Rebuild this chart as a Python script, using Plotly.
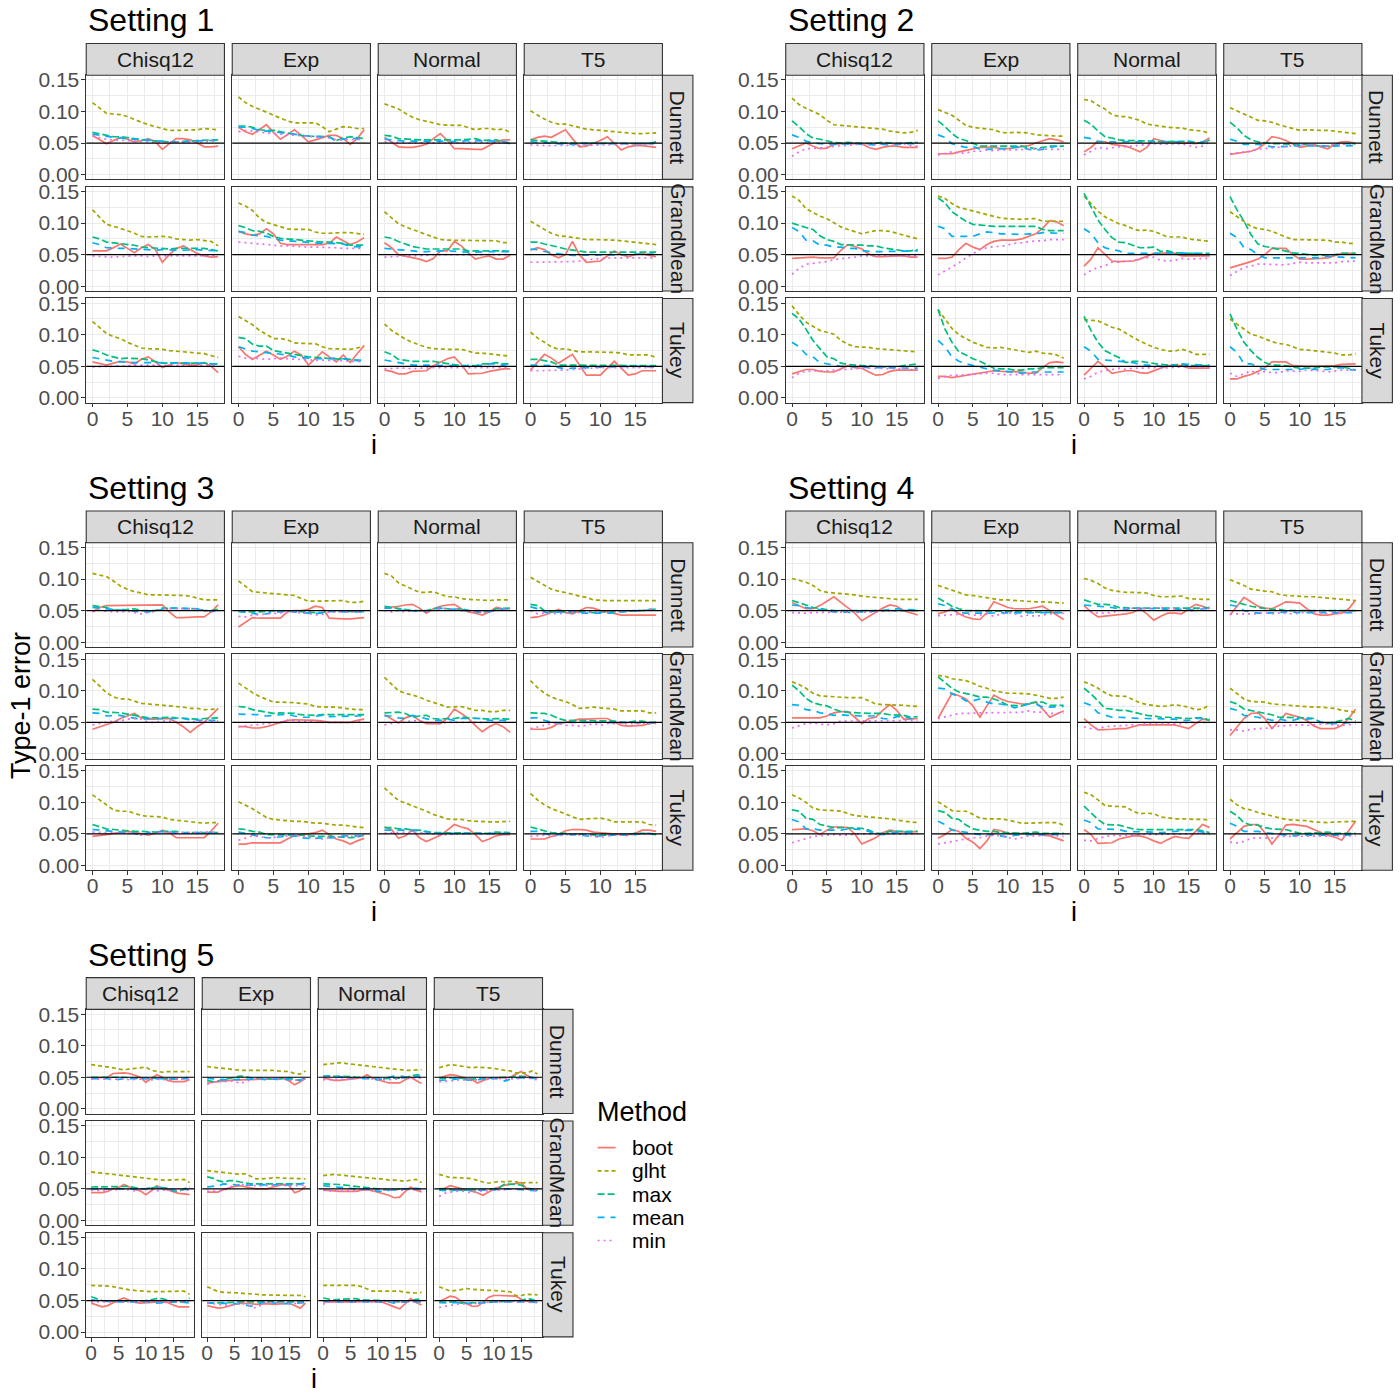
import plotly.graph_objects as go

# x values (i) shared by every panel
I_VALUES = [0, 1, 2, 3, 4, 5, 6, 7, 8, 9, 10, 11, 12, 13, 14, 15, 16, 17, 18]

COLUMNS = ["Chisq12", "Exp", "Normal", "T5"]
ROWS = ["Dunnett", "GrandMean", "Tukey"]
METHODS = ["boot", "glht", "max", "mean", "min"]
Y_TICKS = [0, 0.05, 0.10, 0.15]
Y_TICKTEXT = ["0.00", "0.05", "0.10", "0.15"]
X_TICKS = [0, 5, 10, 15]

# type-1 error x1000, panel order: Dunnett (Chisq12, Exp, Normal, T5), GrandMean (...), Tukey (...)
S1_BOOT = [
    [62,56,49,54,59,56,52,54,57,52,40,49,57,57,55,50,44,44,45],
    [75,68,64,72,79,67,56,63,71,62,52,55,59,62,62,57,48,57,71],
    [59,52,44,43,43,45,48,57,65,54,41,41,40,40,40,46,52,55,55],
    [55,59,61,59,65,71,57,44,45,49,54,60,49,39,44,46,46,45,43],
    [56,56,56,61,67,60,53,61,66,58,38,50,60,64,58,52,48,46,47],
    [87,83,81,83,91,83,68,66,66,66,66,66,66,68,78,72,66,70,77],
    [69,61,50,48,46,43,39,44,56,56,71,64,53,43,46,48,43,43,49],
    [57,61,58,50,45,50,71,50,38,39,40,48,56,50,47,50,52,49,47],
    [57,54,52,55,58,57,54,61,65,57,48,52,56,54,52,52,56,50,40],
    [81,69,61,68,74,68,61,66,74,68,52,62,73,65,57,68,56,70,83],
    [44,42,38,38,42,43,43,51,57,62,65,53,38,38,39,42,44,46,46],
    [44,56,69,63,55,62,69,52,36,36,36,47,58,47,36,38,43,43,43],
]
S1_GLHT = [
    [114,106,97,96,95,92,87,83,79,76,73,70,70,70,71,71,73,72,71],
    [123,114,108,104,99,94,89,85,82,82,82,82,76,68,72,76,75,73,73],
    [112,108,104,97,91,87,85,82,79,78,78,78,74,71,73,73,71,72,67],
    [101,94,88,83,80,80,77,74,72,71,70,69,67,66,65,65,65,65,66],
    [121,109,98,95,92,88,84,79,78,79,79,78,75,74,73,74,72,71,64],
    [132,127,120,108,101,98,95,91,90,90,90,86,84,84,85,85,85,83,82],
    [118,108,99,94,90,85,81,78,74,73,73,73,73,72,72,72,72,69,69],
    [103,96,90,84,80,79,77,75,74,74,74,74,73,72,71,70,68,67,66],
    [121,111,102,97,94,88,83,79,78,78,77,75,74,72,71,70,70,67,64],
    [129,122,116,107,100,94,94,92,87,86,86,86,81,78,78,78,77,79,82],
    [117,107,100,93,88,84,80,78,77,77,77,77,74,71,71,70,69,67,66],
    [104,95,88,81,77,78,75,73,73,73,73,73,72,71,68,68,68,68,64],
]
S1_MAX = [
    [67,65,62,60,60,59,57,55,54,53,52,52,52,52,53,54,55,55,55],
    [77,77,75,71,70,70,68,66,63,62,61,61,61,60,54,58,60,58,57],
    [62,61,57,56,55,55,55,55,54,54,54,55,56,57,54,54,55,52,49],
    [55,54,52,51,50,50,50,50,50,50,50,50,50,50,50,49,49,49,52],
    [78,75,70,69,68,67,65,62,61,60,59,59,60,60,60,60,60,58,56],
    [96,93,88,87,84,79,76,75,73,72,72,71,70,70,69,68,65,65,65],
    [78,76,71,67,63,61,59,59,59,60,60,59,56,56,56,56,57,56,55],
    [70,70,67,65,62,59,57,55,54,54,54,54,54,54,54,54,54,54,54],
    [76,73,68,65,62,63,63,62,60,57,55,55,55,56,56,55,55,54,54],
    [96,94,85,82,82,75,73,71,68,66,65,64,64,62,62,61,61,59,59],
    [73,69,61,59,58,58,58,58,56,54,52,51,51,51,54,54,56,54,54],
    [61,61,59,57,52,52,51,51,51,51,51,51,51,51,51,51,52,51,51],
]
S1_MEAN = [
    [64,62,60,59,58,57,56,55,54,53,52,52,52,52,52,53,54,54,54],
    [75,75,73,70,69,68,67,66,64,62,61,61,60,60,53,56,58,57,57],
    [56,55,53,53,53,53,54,54,53,52,52,53,54,54,53,53,53,52,51],
    [52,51,50,50,49,48,48,49,49,49,49,49,49,48,48,48,49,49,49],
    [69,66,61,60,60,60,59,58,58,57,58,57,57,57,58,58,57,56,56],
    [87,85,81,80,79,76,73,72,71,71,70,69,68,68,68,67,63,62,62],
    [60,59,57,57,56,55,55,56,56,56,55,55,54,54,55,55,55,55,55],
    [59,58,55,53,51,50,49,49,50,50,50,50,50,50,50,51,51,51,51],
    [64,62,59,58,57,56,56,56,56,56,55,55,55,55,56,56,55,54,54],
    [81,78,74,73,72,70,69,68,65,64,62,62,62,63,63,62,61,60,59],
    [60,58,56,53,52,52,52,52,51,51,51,50,51,50,52,54,54,52,54],
    [52,52,52,51,48,46,47,48,48,48,49,49,49,50,50,50,50,49,49],
]
S1_MIN = [
    [61,58,56,55,55,54,53,53,52,51,51,51,51,51,51,52,52,53,53],
    [68,70,69,67,66,65,64,63,62,61,60,60,59,58,55,55,56,56,56],
    [52,51,50,50,50,50,51,51,51,50,50,51,51,52,51,51,51,50,50],
    [47,46,46,46,46,46,46,47,47,47,47,47,48,48,47,47,48,48,48],
    [48,47,47,46,47,48,48,48,47,48,48,48,48,48,48,49,48,48,48],
    [70,69,68,67,65,65,64,64,63,63,62,62,62,61,61,60,60,60,60],
    [46,47,48,48,48,48,49,50,50,50,50,49,49,50,50,50,50,50,50],
    [38,38,39,38,38,38,39,40,42,43,44,45,45,45,45,44,44,45,45],
    [49,50,50,50,50,51,52,52,52,52,52,52,52,52,52,52,52,52,51],
    [66,63,63,62,61,62,63,62,61,61,60,60,60,59,59,59,58,58,58],
    [46,47,47,47,46,47,48,48,48,48,48,49,49,49,48,49,49,48,48],
    [43,43,43,43,43,44,45,46,47,48,48,48,48,48,48,48,49,48,48],
]

S2_BOOT = [
    [41,45,50,45,41,42,48,49,49,49,49,43,40,43,45,45,43,43,43],
    [33,33,33,36,38,41,43,43,43,41,41,43,44,46,50,54,57,55,52],
    [36,43,53,52,48,46,45,41,36,43,57,54,52,52,50,50,49,52,58],
    [32,34,36,37,41,49,60,58,54,48,43,45,48,44,41,48,52,52,49],
    [44,45,46,46,45,45,45,57,66,63,59,51,47,47,48,48,48,46,46],
    [44,44,46,58,68,62,58,66,71,73,73,73,75,79,83,92,104,102,96],
    [32,43,61,50,40,39,39,40,43,48,52,52,53,52,48,48,48,48,48],
    [29,32,36,39,43,50,60,60,60,50,43,43,43,44,45,49,52,52,52],
    [38,42,45,45,42,41,41,46,51,48,47,41,36,37,42,44,44,44,44],
    [34,34,32,34,36,38,40,42,43,42,42,42,41,39,39,48,56,57,56],
    [36,47,58,49,39,41,43,43,40,39,43,47,51,51,51,47,47,47,47],
    [30,30,34,37,42,48,57,57,57,51,50,50,50,50,50,51,53,54,54],
]
S2_GLHT = [
    [121,111,105,100,95,86,79,78,77,76,75,75,74,72,69,67,66,67,70],
    [103,99,94,86,78,75,74,73,71,67,66,67,67,66,63,62,61,61,61],
    [119,117,110,104,95,92,92,89,86,80,78,76,75,74,74,71,70,69,65],
    [106,101,97,92,86,85,83,79,76,72,70,71,70,70,70,69,67,66,65],
    [143,136,123,117,111,107,100,94,90,86,83,86,88,88,87,84,81,78,75],
    [143,139,131,125,122,119,116,114,111,108,107,106,106,107,107,103,103,103,103],
    [143,131,119,110,104,99,96,91,88,89,87,82,78,78,78,75,74,73,71],
    [118,110,103,95,91,90,87,82,78,74,74,73,74,73,73,70,70,68,68],
    [146,132,120,113,107,104,101,91,85,81,81,80,78,77,77,76,74,74,73],
    [140,125,110,100,94,88,84,80,79,80,78,76,74,72,74,71,70,68,63],
    [124,123,122,117,112,109,102,96,90,85,80,77,74,74,77,74,69,69,69],
    [125,117,108,101,98,93,89,86,85,81,77,76,75,74,73,71,68,68,70],
]
S2_MAX = [
    [85,76,65,58,56,53,51,50,51,50,49,49,50,51,50,49,50,50,51],
    [85,76,65,57,54,50,45,45,45,45,45,45,45,43,41,43,45,45,45],
    [86,80,69,60,58,55,54,54,54,53,53,52,52,52,53,53,51,49,55],
    [83,74,62,55,52,50,49,49,48,48,48,48,46,45,45,46,49,49,49],
    [100,96,93,90,80,74,71,66,66,66,65,64,64,61,59,57,56,56,58],
    [140,132,118,110,103,98,97,95,95,95,95,94,94,95,95,90,88,88,88],
    [147,126,105,90,77,70,69,65,61,61,62,55,56,53,52,52,52,52,52],
    [142,121,103,82,67,63,61,58,56,53,52,50,49,49,49,50,52,52,52],
    [134,125,109,91,78,65,62,55,53,52,52,51,49,49,49,49,51,53,54],
    [140,109,88,73,68,62,58,52,47,46,46,44,44,46,46,48,48,48,48],
    [129,107,88,75,69,64,56,58,58,56,55,53,52,53,53,51,51,51,51],
    [133,109,88,75,64,56,52,52,51,49,47,47,47,49,49,49,49,47,44],
]
S2_MEAN = [
    [63,59,53,50,49,48,48,48,49,49,48,47,47,48,47,48,49,49,49],
    [63,59,49,46,43,45,40,40,41,41,41,43,43,40,39,40,43,45,45],
    [59,57,52,52,52,51,52,51,51,51,52,52,52,52,52,52,50,52,52],
    [56,53,48,48,48,46,44,44,45,45,46,46,45,45,45,45,45,45,46],
    [93,87,73,72,65,65,62,62,60,60,56,55,55,55,55,56,56,56,56],
    [95,91,79,79,79,79,83,86,85,83,83,82,82,83,83,85,84,84,84],
    [91,84,69,61,58,56,52,52,51,51,51,52,53,53,53,52,52,51,50],
    [84,77,61,58,50,45,45,45,45,45,45,45,45,45,48,46,46,45,45],
    [88,81,69,65,56,54,51,50,50,49,49,48,48,48,47,48,48,48,47],
    [91,81,65,58,54,51,48,46,44,43,42,41,39,41,41,42,42,42,41],
    [81,74,61,60,58,58,56,56,53,52,51,50,49,52,54,53,52,52,52],
    [81,72,54,54,49,45,45,45,45,45,45,47,45,45,45,47,48,45,44],
]
S2_MIN = [
    [29,36,41,41,42,43,45,46,46,48,48,48,48,48,49,49,49,46,45],
    [31,33,36,34,34,37,37,39,38,39,39,40,40,40,41,40,40,40,40],
    [31,37,43,41,43,44,44,45,47,48,49,48,48,49,49,46,43,45,52],
    [33,34,36,37,40,41,43,43,44,45,46,48,46,45,46,48,48,49,49],
    [19,28,35,36,37,39,42,44,45,46,48,48,48,48,48,48,48,48,48],
    [18,24,31,37,45,52,58,61,63,63,66,68,69,71,72,72,74,74,74],
    [18,25,30,32,38,38,40,40,44,45,46,41,40,41,44,43,44,44,44],
    [17,23,30,32,35,35,34,34,34,36,38,37,37,37,37,37,39,40,40],
    [32,39,42,43,43,43,44,45,45,46,47,47,47,47,46,47,46,45,45],
    [31,33,36,36,37,37,39,39,39,37,37,37,36,36,37,37,37,37,37],
    [30,34,41,43,46,47,45,47,47,48,48,47,48,49,49,49,49,48,48],
    [39,34,38,43,38,42,40,40,43,43,42,44,44,43,41,43,44,44,44],
]

S3_BOOT = [
    [48,55,58,58,58,58,58,58,58,59,59,48,39,39,40,40,40,48,59],
    [24,31,39,38,38,38,38,48,50,50,52,57,55,38,37,37,37,38,39],
    [54,55,57,59,60,54,46,53,57,59,60,53,48,46,43,48,55,53,53],
    [39,40,43,48,52,47,45,50,55,54,50,48,45,43,43,43,43,43,43],
    [39,43,46,50,56,60,64,57,55,55,56,56,50,43,34,43,50,61,72],
    [43,43,41,41,43,46,49,53,54,54,54,53,52,50,50,50,50,53,55],
    [62,56,49,57,61,53,48,48,48,56,71,64,56,45,35,43,48,43,34],
    [39,39,39,42,48,50,53,55,55,56,56,56,50,45,44,44,45,48,50],
    [46,47,49,51,53,54,53,51,48,51,56,52,44,44,44,44,44,55,67],
    [34,34,36,36,36,36,36,42,47,48,50,52,56,49,42,39,34,39,43],
    [61,57,43,47,56,44,38,43,48,56,65,61,58,49,38,42,47,49,49],
    [42,42,42,46,49,55,57,57,56,53,52,51,49,49,49,51,56,56,54],
]
S3_GLHT = [
    [109,106,104,97,89,84,80,78,75,75,75,75,75,74,73,70,67,67,67],
    [97,89,80,79,78,76,76,75,74,69,65,65,65,66,66,66,63,63,65],
    [109,105,94,89,84,79,79,80,76,72,72,69,68,67,66,66,67,67,67],
    [103,97,90,84,81,79,76,73,71,67,66,66,66,66,66,66,67,67,66],
    [118,108,97,90,87,87,84,80,79,78,78,77,75,74,72,72,70,70,71],
    [112,104,97,91,87,82,82,82,81,80,79,75,74,74,74,72,71,70,70],
    [121,110,100,96,93,90,85,82,78,74,74,75,72,69,69,67,67,69,69],
    [116,105,96,90,86,83,78,72,73,74,73,72,71,68,68,68,68,65,65],
    [112,104,96,88,86,86,83,79,78,78,77,73,72,70,69,68,67,68,68],
    [101,96,90,83,76,73,72,70,70,70,68,67,67,65,64,64,62,61,60],
    [123,113,103,99,95,90,86,81,77,74,73,73,71,70,69,69,69,70,70],
    [114,104,96,90,86,82,78,73,74,75,75,73,69,69,69,70,69,65,64],
]
S3_MAX = [
    [58,57,55,51,51,52,53,50,50,50,54,54,54,54,53,53,50,50,52],
    [49,48,48,48,49,50,49,50,49,48,47,47,47,49,49,49,48,48,49],
    [57,55,54,52,50,50,50,53,54,53,52,53,50,48,48,49,53,54,54],
    [60,58,50,48,48,48,48,49,48,47,48,48,48,48,49,50,50,52,52],
    [71,70,66,66,65,63,61,58,57,57,58,58,57,56,56,55,56,57,57],
    [75,74,70,68,67,64,65,65,64,62,61,61,62,62,61,61,62,62,62],
    [65,65,66,64,58,60,61,56,55,56,56,58,57,56,56,55,56,55,55],
    [65,65,64,61,56,53,53,53,53,52,52,52,52,50,50,52,52,50,50],
    [65,62,58,57,56,54,54,54,53,53,54,54,54,52,52,52,52,52,52],
    [58,57,54,53,49,49,49,49,49,48,47,46,46,46,46,45,44,45,48],
    [60,60,58,58,56,56,54,52,52,52,52,52,51,51,51,51,53,52,52],
    [61,58,54,52,51,51,49,50,49,48,48,48,49,49,49,51,51,50,49],
]
S3_MEAN = [
    [55,54,53,51,50,49,49,48,48,50,53,54,54,54,53,53,50,49,50],
    [49,47,45,44,45,48,48,49,48,47,47,45,47,49,49,48,48,48,48],
    [54,54,51,50,50,49,49,53,54,53,53,52,50,49,47,48,50,53,53],
    [56,53,48,46,48,48,48,46,46,45,45,46,46,48,49,50,50,51,51],
    [65,64,60,60,61,58,56,55,56,56,57,57,56,56,54,53,53,53,53],
    [63,63,62,62,60,61,63,63,60,58,58,60,61,59,59,60,60,60,61],
    [60,60,57,56,61,58,56,53,53,55,53,56,56,56,56,53,53,53,53],
    [57,57,53,50,49,50,50,50,50,49,49,49,49,49,49,49,50,49,49],
    [57,56,55,54,54,52,51,48,52,53,54,54,51,52,52,52,52,52,52],
    [53,51,49,47,44,44,46,47,47,44,43,43,44,44,44,47,47,47,47],
    [56,56,57,57,56,55,53,51,51,51,51,51,51,51,50,50,50,51,51],
    [54,54,51,49,49,49,49,49,47,46,47,47,48,49,48,49,51,51,50],
]
S3_MIN = [
    [49,51,49,48,48,49,47,45,47,49,53,53,54,53,53,52,50,48,50],
    [41,40,43,44,44,46,46,48,48,46,46,43,44,48,48,48,48,48,48],
    [50,48,50,48,50,50,48,50,53,53,53,50,49,47,47,48,50,53,53],
    [50,45,46,45,45,46,48,47,48,48,48,48,48,49,50,50,50,52,53],
    [46,48,50,52,52,55,56,55,50,50,52,52,50,50,50,52,52,52,52],
    [43,44,45,46,47,48,50,53,52,52,50,50,50,50,50,50,50,50,52],
    [46,48,50,50,53,52,50,48,48,50,50,50,50,50,50,50,50,50,50],
    [40,43,45,48,48,45,45,44,45,48,45,48,48,48,48,48,48,48,48],
    [53,52,52,52,51,51,51,48,50,52,53,52,52,52,51,52,53,52,52],
    [40,44,47,46,44,44,47,47,49,46,44,43,42,44,44,46,46,47,48],
    [51,52,52,53,53,52,51,49,49,49,50,50,50,50,50,50,50,50,50],
    [46,47,48,47,47,49,49,49,48,47,44,47,49,49,47,50,50,51,50],
]

S4_BOOT = [
    [63,58,53,53,58,65,72,63,55,46,34,41,47,54,59,57,50,47,43],
    [45,48,53,45,40,37,36,47,64,60,55,53,53,53,55,57,50,43,36],
    [58,48,40,41,43,43,45,47,53,45,35,41,46,46,45,53,60,57,53],
    [43,58,71,64,57,54,53,58,64,63,62,53,45,43,43,45,46,53,67],
    [57,57,57,57,57,60,65,67,67,58,48,56,58,69,78,69,55,55,56],
    [56,77,96,92,87,76,58,76,93,87,83,81,79,79,82,71,58,63,68],
    [56,46,38,38,39,40,40,43,46,46,46,46,46,46,43,40,48,55,53],
    [29,43,56,64,65,56,40,52,64,61,58,53,44,40,40,40,45,56,71],
    [57,58,58,55,49,56,61,61,60,50,34,39,44,52,56,54,53,53,54],
    [43,49,57,54,43,37,27,39,57,55,51,51,51,51,50,48,47,43,39],
    [57,49,35,35,36,42,45,47,47,44,39,35,41,46,44,43,54,65,60],
    [42,52,62,65,65,52,34,48,64,65,64,62,57,52,48,45,40,55,70],
]
S4_GLHT = [
    [101,98,95,90,82,79,78,78,76,75,73,72,71,69,69,68,68,68,68],
    [90,86,83,79,75,74,72,70,69,67,67,66,65,64,64,64,63,63,62],
    [101,98,93,86,82,80,79,79,79,78,74,72,72,73,73,69,68,68,68],
    [99,95,90,84,82,81,80,76,74,73,73,72,72,71,70,69,69,67,66],
    [114,110,104,96,92,91,91,90,89,89,89,84,79,78,78,78,77,76,75],
    [124,123,119,118,116,112,107,104,100,98,96,96,96,95,93,90,88,88,90],
    [114,110,104,97,92,91,91,86,81,78,76,75,76,78,76,74,70,71,78],
    [104,95,87,83,82,82,79,78,77,76,76,75,74,74,73,72,69,67,66],
    [112,107,100,91,88,88,87,86,83,79,78,77,77,75,74,72,70,69,68],
    [101,94,87,86,86,81,75,74,74,74,72,69,67,67,68,68,68,68,64],
    [116,112,104,95,94,93,93,86,82,83,82,77,75,74,74,73,73,73,72],
    [105,96,90,88,84,81,79,75,73,72,72,71,69,68,68,69,69,70,70],
]
S4_MAX = [
    [66,63,59,55,53,52,50,50,50,50,50,50,50,50,50,50,50,50,50],
    [70,63,57,53,50,50,50,49,49,49,49,48,48,47,47,47,47,47,47],
    [67,64,60,60,59,55,54,54,54,54,54,53,53,53,53,53,54,54,55],
    [66,63,59,57,55,53,52,52,50,50,50,50,50,50,49,49,50,50,50],
    [109,100,88,81,78,76,71,67,66,65,65,64,64,64,62,62,61,58,59],
    [122,113,104,98,96,93,90,90,87,83,77,76,76,80,82,82,77,77,77],
    [104,95,84,72,71,69,69,66,64,61,60,58,58,57,57,56,57,57,53],
    [83,79,71,69,66,64,62,58,58,58,58,57,56,50,48,50,53,56,52],
    [88,86,75,73,65,62,60,60,60,60,59,56,51,51,54,54,54,54,54],
    [87,84,75,73,64,58,56,54,54,52,52,51,51,52,53,51,51,51,51],
    [94,84,73,65,65,64,61,58,57,57,57,58,58,58,57,57,57,55,52],
    [86,79,68,64,64,60,58,58,57,54,51,51,51,52,53,51,51,51,51],
]
S4_MEAN = [
    [59,58,55,53,52,50,48,48,47,47,48,48,50,50,52,53,52,51,51],
    [61,58,53,47,46,46,46,46,47,46,46,46,47,46,46,47,47,47,47],
    [59,58,58,57,55,53,52,54,54,54,54,53,52,52,52,52,50,53,53],
    [59,57,50,48,46,46,46,47,48,47,47,47,47,47,47,47,47,47,47],
    [78,77,70,69,65,64,61,62,61,60,60,60,60,56,55,59,59,56,56],
    [104,103,95,91,84,84,87,82,79,79,77,73,76,79,79,74,74,74,75],
    [81,77,65,62,58,58,57,57,56,56,56,55,55,55,53,53,56,56,56],
    [72,69,61,60,58,56,53,55,53,53,56,55,56,50,48,48,49,50,50],
    [73,69,58,58,56,56,55,56,58,58,57,54,50,49,51,53,53,53,53],
    [70,65,56,54,52,51,49,49,49,47,45,48,49,49,49,49,50,49,49],
    [72,68,58,58,57,57,54,54,54,53,53,52,53,54,54,56,55,53,53],
    [67,62,54,54,54,52,51,49,49,47,48,48,49,49,48,49,48,48,48],
]
S4_MIN = [
    [47,46,46,47,47,47,48,48,48,47,47,47,48,49,50,50,50,50,50],
    [42,43,43,45,45,43,43,45,41,45,46,45,41,43,41,43,45,45,46],
    [50,48,46,46,47,50,53,54,53,53,54,55,53,53,50,50,50,53,55],
    [45,45,45,46,45,47,45,46,45,45,46,48,48,46,45,46,46,48,48],
    [41,45,48,49,48,46,48,52,52,52,52,52,52,52,52,52,52,53,53],
    [56,59,61,64,64,65,65,65,65,65,65,65,66,68,66,66,64,64,64],
    [43,40,40,43,44,44,45,46,46,48,48,48,48,48,48,50,50,50,50],
    [38,38,36,39,40,40,41,44,45,45,46,45,46,48,48,45,45,46,48],
    [36,39,43,46,47,48,49,48,49,49,50,50,50,50,50,50,50,50,50],
    [34,36,37,39,42,44,44,47,48,47,44,42,44,47,47,48,48,47,46],
    [40,39,43,46,48,47,47,48,49,49,49,49,49,50,50,50,51,51,49],
    [37,36,38,43,44,44,43,46,46,47,46,46,47,47,47,46,46,47,47],
]

S5_BOOT = [
    [49,49,49,50,56,57,57,56,53,50,42,48,54,50,45,43,43,43,46],
    [41,42,43,45,45,46,46,46,46,46,47,47,48,48,49,44,38,43,48],
    [49,47,45,45,46,48,49,49,54,49,46,43,41,41,41,46,50,45,40],
    [49,51,54,53,51,49,46,41,44,48,49,49,49,50,55,59,53,49,49],
    [44,44,44,46,50,52,57,53,49,47,41,47,55,51,48,45,43,42,41],
    [45,45,45,49,52,54,55,53,52,50,50,50,53,55,57,55,44,47,54],
    [48,48,47,46,46,45,46,48,49,47,45,42,40,36,37,46,53,48,45],
    [50,51,55,53,50,48,46,44,40,45,50,53,56,57,58,60,50,48,48],
    [46,43,40,42,47,51,54,51,47,46,46,47,48,48,47,43,40,40,40],
    [42,40,38,39,42,44,46,46,45,44,45,45,44,44,45,46,42,38,46],
    [48,48,47,47,47,48,48,49,49,49,48,47,43,40,37,45,53,47,43],
    [48,53,57,55,49,45,41,41,47,55,58,58,58,58,57,52,49,48,47],
]
S5_GLHT = [
    [70,69,68,67,65,63,62,63,64,65,66,61,59,58,59,59,59,59,59],
    [67,66,65,63,62,61,61,61,61,61,62,61,61,60,60,59,56,55,60],
    [70,71,72,73,72,71,70,69,68,67,66,64,63,62,62,61,61,62,62],
    [65,68,70,69,68,66,65,66,66,65,64,62,61,60,57,57,57,60,55],
    [77,76,75,74,73,72,71,70,69,68,67,65,64,64,64,64,65,65,60],
    [79,78,77,75,74,73,73,74,70,66,66,67,68,68,67,67,67,67,66],
    [71,72,73,72,71,71,70,69,68,67,66,66,64,64,63,62,64,65,60],
    [73,70,68,68,68,67,66,63,61,59,60,62,61,62,61,59,60,60,60],
    [74,74,74,73,72,70,69,67,66,65,64,64,64,64,64,64,65,65,60],
    [72,68,64,63,63,62,62,61,61,60,59,59,58,58,58,58,58,58,56],
    [74,74,74,74,75,75,74,72,69,65,65,65,66,66,65,63,62,62,63],
    [72,68,65,66,68,69,68,67,67,66,66,65,65,64,58,58,60,59,59],
]
S5_MAX = [
    [50,50,50,50,51,51,50,49,49,48,48,49,49,48,48,47,47,48,51],
    [45,43,44,47,48,50,52,51,49,49,48,48,47,47,48,49,46,45,48],
    [52,52,52,51,51,51,50,50,49,49,49,48,48,48,48,49,52,54,53],
    [48,49,49,49,48,47,47,48,49,49,49,49,50,50,52,52,51,50,48],
    [53,53,53,53,53,53,54,54,52,50,50,52,53,52,51,47,46,50,53],
    [69,67,63,61,63,63,61,59,58,58,58,58,57,57,57,57,57,58,60],
    [58,58,58,57,56,55,53,52,51,50,50,49,48,49,50,50,50,50,50],
    [50,49,49,48,48,48,48,48,48,49,50,52,58,58,57,56,51,50,50],
    [56,53,50,49,49,48,49,49,49,49,50,52,53,53,50,48,48,48,54],
    [46,46,46,47,47,47,48,48,48,47,47,48,48,48,48,48,48,48,48],
    [54,52,51,52,52,53,53,51,51,51,50,50,49,48,48,48,49,52,52],
    [47,47,48,48,46,46,46,47,47,47,48,48,49,49,50,50,53,52,48],
]
S5_MEAN = [
    [48,48,48,48,45,47,48,48,48,48,48,48,48,49,49,49,49,48,48],
    [48,48,47,46,46,46,47,47,47,48,47,46,47,47,46,46,46,46,49],
    [52,52,52,51,50,49,48,48,48,47,46,48,50,52,52,50,49,51,52],
    [45,45,46,47,48,46,45,46,47,47,48,48,44,47,49,49,49,49,48],
    [50,50,50,50,50,50,51,51,51,50,50,52,52,51,50,48,48,49,50],
    [53,54,55,58,57,57,56,56,56,56,57,57,57,57,57,57,57,57,60],
    [55,54,53,52,51,50,50,50,50,49,46,47,48,49,50,50,51,51,50],
    [48,47,47,48,48,47,47,47,47,47,48,50,50,50,49,49,48,48,47],
    [51,50,49,48,48,48,48,48,48,48,47,48,46,47,48,48,48,47,46],
    [46,46,45,46,46,46,45,43,41,43,47,47,46,45,45,45,46,46,47],
    [49,48,48,48,48,48,48,48,48,48,47,48,48,46,47,48,49,48,48],
    [47,46,46,47,47,46,45,46,46,47,48,48,48,48,47,48,49,48,47],
]
S5_MIN = [
    [47,47,47,48,48,48,47,46,47,47,47,46,47,46,46,47,48,48,47],
    [39,42,44,43,43,44,40,43,46,47,48,48,48,48,47,45,45,45,46],
    [46,46,46,47,47,48,49,49,48,47,46,46,46,47,48,49,48,49,49],
    [43,43,44,46,46,45,45,46,46,47,48,48,47,47,48,48,49,48,46],
    [48,47,47,48,48,49,50,49,47,48,49,48,47,48,48,48,48,48,48],
    [46,46,46,47,52,56,57,56,56,55,55,56,56,56,55,55,55,55,56],
    [48,47,46,46,47,48,48,48,48,48,48,48,47,47,48,48,49,49,48],
    [38,43,45,46,47,45,44,46,47,48,48,48,49,50,50,50,50,49,45],
    [48,48,48,48,47,47,48,48,48,48,47,48,48,48,48,48,47,48,49],
    [46,45,44,43,42,44,46,45,40,38,44,47,46,45,45,45,45,45,46],
    [44,48,48,48,48,47,48,48,48,48,48,48,48,47,47,48,48,48,48],
    [39,41,43,44,45,44,44,46,47,48,48,48,48,48,48,48,48,48,47],
]

SETTINGS = {
    1: dict(boot=S1_BOOT, glht=S1_GLHT, max=S1_MAX, mean=S1_MEAN, min=S1_MIN),
    2: dict(boot=S2_BOOT, glht=S2_GLHT, max=S2_MAX, mean=S2_MEAN, min=S2_MIN),
    3: dict(boot=S3_BOOT, glht=S3_GLHT, max=S3_MAX, mean=S3_MEAN, min=S3_MIN),
    4: dict(boot=S4_BOOT, glht=S4_GLHT, max=S4_MAX, mean=S4_MEAN, min=S4_MIN),
    5: dict(boot=S5_BOOT, glht=S5_GLHT, max=S5_MAX, mean=S5_MEAN, min=S5_MIN),
}

COLORS = {"boot": "#F8766D", "glht": "#A3A500", "max": "#00BF7D",
          "mean": "#00B0F6", "min": "#E76BF3"}
DASHES = {"boot": "solid", "glht": "4px,3px", "max": "7px,3px",
          "mean": "7px,6px", "min": "2px,4px"}

FONT = "Liberation Sans, Arial, sans-serif"
W = H = 1400
STRIP_H = 31.7
ROW_H = 104
ROW_GAP = 7.5
COL_GAP = 7.8
RSTRIP_W = 30.5
# setting -> (left of first panel, top of strip, panel width), in target pixels
BLOCKS = {1: (85.3, 44.3, 138.3), 2: (785.3, 44.3, 138.3),
          3: (85.3, 511.3, 138.3), 4: (785.3, 511.3, 138.3),
          5: (85.3, 977.3, 108.3)}

# the page photo squeezes the height a little (about 8 px top and bottom);
# lay out in target pixels and undo that squeeze here
SQUEEZE = 0.9887
TOP_PAD = 7.9


def px(x):
    return x / W


def py(y):
    return 1 - ((y - TOP_PAD) / SQUEEZE) / H


fig = go.Figure()
axes = {}
shapes = []
annotations = []


def ann(text, x, y, size, color="#000000", xanchor="center", angle=0):
    annotations.append(dict(text=text, x=px(x), y=py(y), xref="paper", yref="paper",
                            showarrow=False, xanchor=xanchor, yanchor="middle",
                            textangle=angle, font=dict(family=FONT, size=size, color=color)))


for s, (left, top, pw) in BLOCKS.items():
    data = SETTINGS[s]
    right = left + 3 * (pw + COL_GAP) + pw
    for r in range(3):
        y0 = top + STRIP_H + r * (ROW_H + ROW_GAP)
        y1 = y0 + ROW_H
        for c in range(4):
            x0 = left + c * (pw + COL_GAP)
            x1 = x0 + pw
            n = (s - 1) * 12 + r * 4 + c + 1
            sfx = "" if n == 1 else str(n)
            bottom = r == 2
            first = c == 0
            axes["xaxis" + sfx] = dict(
                domain=[px(x0), px(x1)], anchor="y" + sfx, range=[-0.9, 18.9],
                tickmode="array", tickvals=X_TICKS, ticktext=[str(v) for v in X_TICKS],
                showticklabels=bottom, ticks="outside" if bottom else "", tickangle=0,
                ticklen=3.7, tickwidth=1.1, tickcolor="#333333", ticklabelstandoff=-7,
                tickfont=dict(family=FONT, size=21, color="#4D4D4D"),
                showgrid=True, gridcolor="#EBEBEB", gridwidth=1.1, zeroline=False,
                minor=dict(tickvals=[2.5, 7.5, 12.5, 17.5], showgrid=True,
                           gridcolor="#EBEBEB", gridwidth=0.55, ticks=""),
                showline=True, mirror=True, linecolor="#333333", linewidth=1.1)
            axes["yaxis" + sfx] = dict(
                domain=[py(y1), py(y0)], anchor="x" + sfx, range=[-0.0075, 0.1575],
                tickmode="array", tickvals=Y_TICKS, ticktext=Y_TICKTEXT,
                showticklabels=first, ticks="outside" if first else "",
                ticklen=3.7, tickwidth=1.1, tickcolor="#333333", ticklabelstandoff=-2,
                tickfont=dict(family=FONT, size=21, color="#4D4D4D"),
                showgrid=True, gridcolor="#EBEBEB", gridwidth=1.1, zeroline=False,
                minor=dict(tickvals=[0.025, 0.075, 0.125], showgrid=True,
                           gridcolor="#EBEBEB", gridwidth=0.55, ticks=""),
                showline=True, mirror=True, linecolor="#333333", linewidth=1.1)
            for m in METHODS:
                fig.add_trace(go.Scatter(
                    x=I_VALUES, y=[v / 1000 for v in data[m][r * 4 + c]],
                    xaxis="x" + sfx, yaxis="y" + sfx, mode="lines",
                    line=dict(color=COLORS[m], width=1.7, dash=DASHES[m]),
                    showlegend=False, hoverinfo="skip"))
            shapes.append(dict(type="line", xref="x" + sfx + " domain", yref="y" + sfx,
                               x0=0, x1=1, y0=0.05, y1=0.05,
                               line=dict(color="#000000", width=1.2)))
            if r == 0:
                shapes.append(dict(type="rect", xref="paper", yref="paper",
                                   x0=px(x0), x1=px(x1), y0=py(top + STRIP_H), y1=py(top),
                                   fillcolor="#D9D9D9", line=dict(color="#333333", width=1.1)))
                ann(COLUMNS[c], (x0 + x1) / 2, top + STRIP_H / 2, 21, "#1A1A1A")
        shapes.append(dict(type="rect", xref="paper", yref="paper",
                           x0=px(right), x1=px(right + RSTRIP_W), y0=py(y1), y1=py(y0),
                           fillcolor="#D9D9D9", line=dict(color="#333333", width=1.1)))
        ann(ROWS[r], right + RSTRIP_W / 2, (y0 + y1) / 2, 21, "#1A1A1A", angle=90)
    ann("Setting %d" % s, left, top - 23, 32, xanchor="left")
    ann("i", (left + right) / 2, top + STRIP_H + 3 * ROW_H + 2 * ROW_GAP + 42, 27)

ann("Type-1 error", 20, 705, 27, angle=-90)

# legend
ann("Method", 594, 1111, 27, xanchor="left")
for k, m in enumerate(METHODS):
    yy = 1147 + k * 23.2
    shapes.append(dict(type="line", xref="paper", yref="paper",
                       x0=px(597), x1=px(615), y0=py(yy), y1=py(yy),
                       line=dict(color=COLORS[m], width=1.7, dash=DASHES[m])))
    ann(m, 629, yy, 21, xanchor="left")

fig.update_layout(width=W, height=H, margin=dict(l=0, r=0, t=0, b=0),
                  plot_bgcolor="white", paper_bgcolor="white",
                  showlegend=False, shapes=shapes, annotations=annotations, **axes)

PIN_TOP_LEFT = ("document.body.style.margin='0px';"
                "var gd=document.getElementById('{plot_id}');"
                "gd.style.position='fixed';gd.style.left='0px';gd.style.top='0px';")

fig.write_html("out.html", config={"displayModeBar": False}, post_script=PIN_TOP_LEFT)
